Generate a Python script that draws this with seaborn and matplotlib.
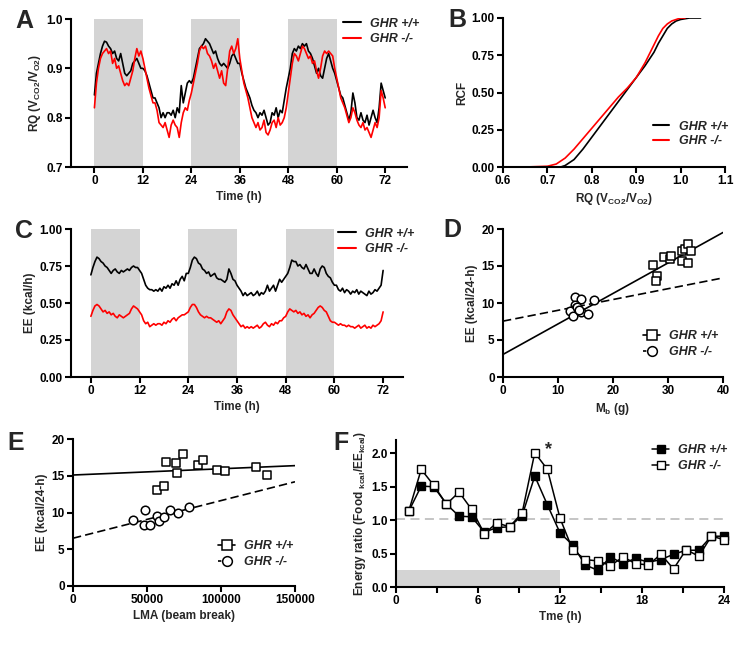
import numpy as np
import pandas as pd
import matplotlib
matplotlib.use("Agg")
import matplotlib.pyplot as plt
from matplotlib.lines import Line2D
import seaborn as sns

sns.set_style("ticks")
plt.rcParams.update({
    "font.family": ["Liberation Sans", "DejaVu Sans"],
    "font.weight": "bold",
    "axes.labelweight": "bold",
    "mathtext.fontset": "custom",
    "mathtext.rm": "Liberation Sans:bold",
    "mathtext.it": "Liberation Sans:bold:italic",
    "mathtext.bf": "Liberation Sans:bold",
    "axes.linewidth": 1.5,
    "xtick.major.width": 1.5,
    "ytick.major.width": 1.5,
    "xtick.minor.width": 1.5,
    "xtick.major.size": 4,
    "ytick.major.size": 4,
    "xtick.minor.size": 4,
    "xtick.major.pad": 2,
    "ytick.major.pad": 2,
    "xtick.labelsize": 8.5,
    "ytick.labelsize": 8.5,
    "axes.labelsize": 8.5,
    "axes.labelpad": 2.5,
    "axes.edgecolor": "black",
    "xtick.color": "black",
    "ytick.color": "black",
})

groups = ["GHR +/+", "GHR -/-"]
line_colors = {"GHR +/+": "black", "GHR -/-": "red"}

# ---------- Panel A: RQ time course (every 0.5 h) ----------
hours = np.arange(0, 72.5, 0.5)
rq_wt = [0.846, 0.89, 0.91, 0.93, 0.945, 0.955, 0.953, 0.945, 0.94, 0.93,
         0.935, 0.92, 0.915, 0.93, 0.91, 0.89, 0.885, 0.89, 0.895, 0.91,
         0.915, 0.92, 0.91, 0.90, 0.90, 0.895, 0.885, 0.87, 0.855, 0.84,
         0.84, 0.83, 0.82, 0.80, 0.81, 0.80, 0.81, 0.81, 0.805, 0.815,
         0.80, 0.82, 0.81, 0.865, 0.83, 0.85, 0.87, 0.875, 0.87, 0.88,
         0.90, 0.92, 0.94, 0.945, 0.95, 0.96, 0.955, 0.95, 0.94, 0.93,
         0.935, 0.92, 0.91, 0.905, 0.91, 0.905, 0.90, 0.91, 0.925, 0.93,
         0.92, 0.91, 0.91, 0.89, 0.875, 0.86, 0.85, 0.84, 0.825, 0.815,
         0.81, 0.80, 0.81, 0.805, 0.815, 0.80, 0.785, 0.79, 0.81, 0.805,
         0.82, 0.80, 0.815, 0.81, 0.835, 0.86, 0.88, 0.90, 0.93, 0.94,
         0.935, 0.945, 0.94, 0.95, 0.945, 0.95, 0.935, 0.93, 0.92, 0.905,
         0.89, 0.90, 0.885, 0.88, 0.90, 0.92, 0.93, 0.915, 0.90, 0.89,
         0.875, 0.86, 0.845, 0.84, 0.825, 0.81, 0.795, 0.81, 0.85, 0.83,
         0.80, 0.795, 0.81, 0.795, 0.79, 0.805, 0.785, 0.80, 0.815, 0.80,
         0.79, 0.82, 0.87, 0.855, 0.84]
rq_ko = [0.82, 0.87, 0.90, 0.92, 0.93, 0.935, 0.94, 0.93, 0.935, 0.91,
         0.92, 0.90, 0.905, 0.89, 0.875, 0.865, 0.87, 0.865, 0.88, 0.895,
         0.92, 0.94, 0.925, 0.935, 0.92, 0.90, 0.88, 0.86, 0.845, 0.83,
         0.83, 0.815, 0.79, 0.785, 0.78, 0.79, 0.775, 0.76, 0.785, 0.795,
         0.785, 0.78, 0.76, 0.79, 0.81, 0.82, 0.815, 0.835, 0.85, 0.87,
         0.89, 0.91, 0.935, 0.945, 0.94, 0.945, 0.93, 0.925, 0.915, 0.90,
         0.91, 0.895, 0.88, 0.895, 0.87, 0.865, 0.90, 0.935, 0.945, 0.93,
         0.94, 0.96, 0.92, 0.895, 0.87, 0.855, 0.84, 0.82, 0.80, 0.79,
         0.78, 0.79, 0.775, 0.78, 0.795, 0.77, 0.765, 0.775, 0.79, 0.795,
         0.78, 0.80, 0.785, 0.79, 0.80, 0.82, 0.85, 0.88, 0.91, 0.93,
         0.925, 0.915, 0.93, 0.945, 0.94, 0.93, 0.92, 0.925, 0.91, 0.915,
         0.895, 0.88, 0.90, 0.925, 0.935, 0.93, 0.935, 0.93, 0.925, 0.90,
         0.88, 0.86, 0.84, 0.83, 0.82, 0.805, 0.79, 0.80, 0.82, 0.81,
         0.795, 0.785, 0.78, 0.79, 0.775, 0.78, 0.77, 0.76, 0.775, 0.79,
         0.78, 0.80, 0.855, 0.84, 0.82]

# ---------- Panel B: cumulative RQ distribution ----------
cdf_rq_wt = [0.65, 0.70, 0.73, 0.74, 0.76, 0.78, 0.80, 0.82, 0.84, 0.86, 0.88, 0.90,
             0.92, 0.94, 0.95, 0.96, 0.97, 0.98, 0.99, 1.00, 1.02, 1.045]
cdf_wt = [0.0, 0.0, 0.0, 0.01, 0.05, 0.12, 0.20, 0.28, 0.36, 0.44, 0.52, 0.60,
          0.68, 0.77, 0.83, 0.88, 0.93, 0.96, 0.98, 0.99, 1.0, 1.0]
cdf_rq_ko = [0.65, 0.70, 0.72, 0.74, 0.76, 0.78, 0.80, 0.82, 0.84, 0.86, 0.88, 0.90,
             0.92, 0.93, 0.94, 0.95, 0.96, 0.97, 0.98, 0.99, 1.00, 1.01]
cdf_ko = [0.0, 0.005, 0.02, 0.06, 0.12, 0.19, 0.26, 0.33, 0.40, 0.47, 0.53, 0.60,
          0.70, 0.76, 0.82, 0.88, 0.93, 0.96, 0.98, 0.99, 1.0, 1.0]

# ---------- Panel C: EE time course ----------
ee_wt = [0.69, 0.74, 0.78, 0.81, 0.80, 0.78, 0.77, 0.75, 0.74, 0.72,
         0.70, 0.72, 0.73, 0.71, 0.70, 0.72, 0.71, 0.72, 0.73, 0.72,
         0.74, 0.75, 0.74, 0.74, 0.72, 0.70, 0.66, 0.62, 0.60, 0.59,
         0.59, 0.58, 0.59, 0.58, 0.60, 0.58, 0.61, 0.60, 0.62, 0.60,
         0.63, 0.62, 0.65, 0.62, 0.66, 0.68, 0.65, 0.70, 0.70, 0.74,
         0.79, 0.81, 0.80, 0.77, 0.76, 0.73, 0.72, 0.70, 0.71, 0.68,
         0.69, 0.70, 0.67, 0.66, 0.66, 0.65, 0.64, 0.66, 0.73, 0.70,
         0.66, 0.65, 0.62, 0.60, 0.58, 0.55, 0.57, 0.55, 0.56, 0.57,
         0.55, 0.56, 0.58, 0.55, 0.57, 0.56, 0.58, 0.62, 0.58, 0.60,
         0.62, 0.58, 0.62, 0.66, 0.64, 0.66, 0.68, 0.70, 0.74, 0.79,
         0.78, 0.78, 0.75, 0.76, 0.74, 0.73, 0.76, 0.73, 0.70, 0.70,
         0.73, 0.70, 0.68, 0.73, 0.75, 0.74, 0.70, 0.68, 0.67, 0.64,
         0.62, 0.62, 0.59, 0.58, 0.60, 0.57, 0.59, 0.58, 0.56, 0.58,
         0.57, 0.59, 0.56, 0.58, 0.57, 0.56, 0.55, 0.58, 0.56, 0.57,
         0.59, 0.58, 0.60, 0.62, 0.72]
ee_ko = [0.41, 0.45, 0.48, 0.49, 0.48, 0.46, 0.44, 0.45, 0.43, 0.44,
         0.42, 0.43, 0.41, 0.40, 0.42, 0.41, 0.40, 0.41, 0.42, 0.43,
         0.46, 0.48, 0.47, 0.46, 0.44, 0.42, 0.38, 0.36, 0.37, 0.34,
         0.35, 0.36, 0.35, 0.36, 0.36, 0.35, 0.37, 0.36, 0.38, 0.37,
         0.39, 0.40, 0.38, 0.40, 0.41, 0.42, 0.42, 0.43, 0.44, 0.47,
         0.49, 0.49, 0.47, 0.44, 0.42, 0.41, 0.40, 0.41, 0.40, 0.40,
         0.39, 0.38, 0.37, 0.38, 0.36, 0.38, 0.40, 0.44, 0.46, 0.45,
         0.42, 0.40, 0.38, 0.36, 0.34, 0.35, 0.33, 0.34, 0.33, 0.34,
         0.33, 0.34, 0.35, 0.33, 0.34, 0.36, 0.37, 0.35, 0.34, 0.36,
         0.35, 0.37, 0.36, 0.38, 0.38, 0.40, 0.41, 0.44, 0.46, 0.45,
         0.44, 0.45, 0.43, 0.44, 0.42, 0.43, 0.41, 0.42, 0.40, 0.42,
         0.43, 0.45, 0.47, 0.48, 0.47, 0.45, 0.44, 0.41, 0.38, 0.37,
         0.37, 0.36, 0.35, 0.36, 0.35, 0.35, 0.34, 0.35, 0.34, 0.34,
         0.33, 0.34, 0.35, 0.33, 0.34, 0.35, 0.33, 0.34, 0.33, 0.35,
         0.34, 0.35, 0.36, 0.38, 0.44]

# ---------- Panel D: EE vs body mass ----------
mb_wt = [27.3, 28.0, 27.9, 29.2, 30.3, 30.6, 32.5, 32.5, 33.0, 33.6, 33.6, 34.2]
eeD_wt = [15.2, 13.7, 13.0, 16.2, 15.9, 16.3, 15.7, 17.0, 17.3, 18.0, 15.4, 17.0]
mb_ko = [13.0, 14.2, 16.6, 13.0, 13.2, 12.2, 12.7, 14.1, 15.5, 13.5, 13.8]
eeD_ko = [10.8, 10.5, 10.4, 9.7, 9.3, 8.9, 8.2, 8.8, 8.5, 9.5, 9.0]
fitD_intercept = [3.05, 7.55]   # solid, dashed
fitD_slope = [0.412, 0.146]

# ---------- Panel E: EE vs locomotor activity ----------
lma_wt = [56700, 61800, 62700, 69500, 70600, 74400, 84300, 87700, 97200, 103000, 123700, 130900]
eeE_wt = [13.0, 13.6, 16.9, 16.8, 15.4, 17.9, 16.4, 17.1, 15.8, 15.6, 16.2, 15.1]
lma_ko = [40500, 48800, 48100, 52200, 56700, 58000, 61800, 65700, 70800, 78300]
eeE_ko = [9.0, 10.4, 8.3, 8.3, 9.5, 8.8, 9.4, 10.3, 10.0, 10.7]
fitE_intercept = [15.1, 6.5]
fitE_slope = [0.0000085, 0.0000512]

# ---------- Panel F: energy ratio ----------
bins = np.arange(1, 27)
ratio_wt = [1.13, 1.51, 1.50, 1.24, 1.06, 1.05, 0.82, 0.89, 0.90, 1.07, 1.66, 1.23, 0.81,
            0.63, 0.33, 0.25, 0.45, 0.35, 0.43, 0.37, 0.41, 0.49, 0.55, 0.55, 0.76, 0.76]
ratio_ko = [1.13, 1.76, 1.52, 1.24, 1.42, 1.16, 0.80, 0.96, 0.90, 1.11, 2.01, 1.76, 1.03,
            0.56, 0.41, 0.39, 0.32, 0.45, 0.35, 0.33, 0.49, 0.27, 0.56, 0.46, 0.76, 0.71]
ratio_ref = 1.02

# ================= figure =================
W, H = 741, 654
fig = plt.figure(figsize=(W / 100, H / 100), dpi=100)


def R(l, t, r, b):
    return [l / W, 1 - b / H, (r - l) / W, (b - t) / H]


def style(ax):
    sns.despine(ax=ax)
    ax.tick_params(direction="out")


shade = "#d4d4d4"
leg_font = {"style": "italic", "weight": "bold", "size": 9}
rq_label = r"RQ (V$_{\mathrm{CO2}}$/V$_{\mathrm{O2}}$)"

# ---- A ----
axA = fig.add_axes(R(71, 19, 407, 167))
dfA = pd.DataFrame({"h": np.concatenate([hours, hours]),
                    "rq": rq_wt + rq_ko,
                    "g": [groups[0]] * len(hours) + [groups[1]] * len(hours)})
for s in (0, 24, 48):
    axA.axvspan(s, s + 12, color=shade, lw=0, zorder=0)
sns.lineplot(data=dfA, x="h", y="rq", hue="g", palette=line_colors, lw=1.2,
             legend=False, ax=axA, zorder=3)
axA.set_xlim(-5.8, 77.4)
axA.set_ylim(0.7, 1.0)
axA.set_xticks([0, 12, 24, 36, 48, 60, 72])
axA.set_yticks([0.7, 0.8, 0.9, 1.0])
axA.set_yticklabels(["0.7", "0.8", "0.9", "1.0"])
axA.set_xlabel("Time (h)")
axA.set_ylabel(rq_label)
style(axA)
hA = [Line2D([], [], color=line_colors[g], lw=1.5) for g in groups]
axA.legend(hA, groups, loc="upper left", bbox_to_anchor=(0.81, 1.01), frameon=False,
           prop=leg_font, handlelength=1.45, handletextpad=0.7, labelspacing=0.3,
           borderpad=0, borderaxespad=0)

# ---- B ----
axB = fig.add_axes(R(503, 18, 725, 167))
dfB = pd.DataFrame({"rq": cdf_rq_wt + cdf_rq_ko, "rcf": cdf_wt + cdf_ko,
                    "g": [groups[0]] * len(cdf_wt) + [groups[1]] * len(cdf_ko)})
sns.lineplot(data=dfB, x="rq", y="rcf", hue="g", palette=line_colors, lw=1.2,
             legend=False, ax=axB)
axB.set_xlim(0.6, 1.1)
axB.set_ylim(0, 1.0)
axB.set_xticks([0.6, 0.7, 0.8, 0.9, 1.0, 1.1])
axB.set_xticklabels(["0.6", "0.7", "0.8", "0.9", "1.0", "1.1"])
axB.set_yticks([0, 0.25, 0.5, 0.75, 1.0])
axB.set_yticklabels(["0.00", "0.25", "0.50", "0.75", "1.00"])
axB.set_xlabel(rq_label)
axB.set_ylabel("RCF")
style(axB)
axB.legend(hA, groups, loc="upper left", bbox_to_anchor=(0.676, 0.31), frameon=False,
           prop=leg_font, handlelength=1.3, handletextpad=0.8, labelspacing=0.2,
           borderpad=0, borderaxespad=0)

# ---- C ----
axC = fig.add_axes(R(71, 229, 403, 377))
dfC = pd.DataFrame({"h": np.concatenate([hours, hours]),
                    "ee": ee_wt + ee_ko,
                    "g": [groups[0]] * len(hours) + [groups[1]] * len(hours)})
for s in (0, 24, 48):
    axC.axvspan(s, s + 12, color=shade, lw=0, zorder=0)
sns.lineplot(data=dfC, x="h", y="ee", hue="g", palette=line_colors, lw=1.2,
             legend=False, ax=axC, zorder=3)
axC.set_xlim(-4.9, 76.9)
axC.set_ylim(0, 1.0)
axC.set_xticks([0, 12, 24, 36, 48, 60, 72])
axC.set_yticks([0, 0.25, 0.5, 0.75, 1.0])
axC.set_yticklabels(["0.00", "0.25", "0.50", "0.75", "1.00"])
axC.set_xlabel("Time (h)")
axC.set_ylabel("EE (kcal/h)")
style(axC)
axC.legend(hA, groups, loc="upper left", bbox_to_anchor=(0.804, 1.01), frameon=False,
           prop=leg_font, handlelength=1.45, handletextpad=0.7, labelspacing=0.3,
           borderpad=0, borderaxespad=0)

# ---- D ----
axD = fig.add_axes(R(503, 229, 723, 377))
xs = np.array([0, 40])
axD.plot(xs, fitD_intercept[0] + fitD_slope[0] * xs, color="black", lw=1.2, zorder=2)
axD.plot(xs, fitD_intercept[1] + fitD_slope[1] * xs, color="black", lw=1.2, ls=(0, (5, 2.5)), zorder=2)
sns.scatterplot(x=mb_wt, y=eeD_wt, marker="s", s=34, facecolor="white", edgecolor="black",
                linewidth=1.1, ax=axD, zorder=3, clip_on=False)
sns.scatterplot(x=mb_ko, y=eeD_ko, marker="o", s=38, facecolor="white", edgecolor="black",
                linewidth=1.1, ax=axD, zorder=3, clip_on=False)
axD.set_xlim(0, 40)
axD.set_ylim(0, 20)
axD.set_xticks([0, 10, 20, 30, 40])
axD.set_yticks([0, 5, 10, 15, 20])
axD.set_xlabel(r"M$_{\mathrm{b}}$ (g)")
axD.set_ylabel("EE (kcal/24-h)")
style(axD)
hD = [Line2D([], [], color="black", lw=1.2, marker="s", ms=7, mfc="white", mec="black", mew=1.1),
      Line2D([], [], color="black", lw=1.2, ls=(0, (2, 1.5)), marker="o", ms=7, mfc="white", mec="black", mew=1.1)]
axD.legend(hD, groups, loc="upper left", bbox_to_anchor=(0.636, 0.315), frameon=False,
           prop=leg_font, handlelength=1.4, handletextpad=0.7, labelspacing=0.3,
           borderpad=0, borderaxespad=0)

# ---- E ----
axE = fig.add_axes(R(73, 439, 295, 586))
xe = np.array([0, 150000])
axE.plot(xe, fitE_intercept[0] + fitE_slope[0] * xe, color="black", lw=1.2, zorder=2)
axE.plot(xe, fitE_intercept[1] + fitE_slope[1] * xe, color="black", lw=1.2, ls=(0, (5, 2.5)), zorder=2)
sns.scatterplot(x=lma_wt, y=eeE_wt, marker="s", s=34, facecolor="white", edgecolor="black",
                linewidth=1.1, ax=axE, zorder=3, clip_on=False)
sns.scatterplot(x=lma_ko, y=eeE_ko, marker="o", s=38, facecolor="white", edgecolor="black",
                linewidth=1.1, ax=axE, zorder=3, clip_on=False)
axE.set_xlim(0, 150000)
axE.set_ylim(0, 20)
axE.set_xticks([0, 50000, 100000, 150000])
axE.set_xticklabels(["0", "50000", "100000", "150000"])
axE.set_yticks([0, 5, 10, 15, 20])
axE.set_xlabel("LMA (beam break)")
axE.set_ylabel("EE (kcal/24-h)")
style(axE)
axE.legend(hD, groups, loc="upper left", bbox_to_anchor=(0.653, 0.31), frameon=False,
           prop=leg_font, handlelength=1.4, handletextpad=0.7, labelspacing=0.3,
           borderpad=0, borderaxespad=0)

# ---- F ----
axF = fig.add_axes(R(396, 440, 724, 587))
tF = bins * 24 / 26
axF.axhspan(0, 0.25, xmin=0, xmax=0.5, color=shade, lw=0, zorder=0)
axF.axhline(ratio_ref, color="#c0c0c0", lw=1.3, ls=(0, (5, 3)), zorder=1)
dfF = pd.DataFrame({"t": np.concatenate([tF, tF]), "r": ratio_wt + ratio_ko,
                    "g": [groups[0]] * len(tF) + [groups[1]] * len(tF)})
sns.lineplot(data=dfF[dfF.g == groups[0]], x="t", y="r", color="black", lw=1.1,
             marker="s", markersize=5.5, markerfacecolor="black", markeredgecolor="black",
             markeredgewidth=1.0, ax=axF, zorder=3, clip_on=False)
sns.lineplot(data=dfF[dfF.g == groups[1]], x="t", y="r", color="black", lw=1.1,
             marker="s", markersize=6, markerfacecolor="white", markeredgecolor="black",
             markeredgewidth=1.0, ax=axF, zorder=4, clip_on=False)
axF.text(11.15, 2.05, "*", ha="center", va="center", fontsize=13, fontweight="bold")
axF.set_xlim(0, 24)
axF.set_ylim(0, 2.2)
axF.set_xticks([0, 6, 12, 18, 24])
axF.set_xticks([3, 9, 15, 21], minor=True)
axF.set_yticks([0, 0.5, 1.0, 1.5, 2.0])
axF.set_yticklabels(["0.0", "0.5", "1.0", "1.5", "2.0"])
axF.set_xlabel("Tme (h)")
axF.set_ylabel(r"Energy ratio (Food $_{\mathrm{kcal}}$/EE$_{\mathrm{kcal}}$)")
style(axF)
hF = [Line2D([], [], color="black", lw=1.1, marker="s", ms=6, mfc="black", mec="black"),
      Line2D([], [], color="black", lw=1.1, marker="s", ms=6, mfc="white", mec="black")]
axF.legend(hF, groups, loc="upper left", bbox_to_anchor=(0.78, 0.97), frameon=False,
           prop=leg_font, handlelength=1.4, handletextpad=0.7, labelspacing=0.3,
           borderpad=0, borderaxespad=0)

# ---- panel letters ----
for lab, x, y in [("A", 15, 28), ("B", 448, 27), ("C", 15, 238), ("D", 443, 237),
                  ("E", 7, 450), ("F", 333, 450)]:
    fig.text(x / W, 1 - y / H, lab, fontsize=18, fontweight="bold", ha="left", va="baseline")

fig.savefig("out.png", dpi=100)
